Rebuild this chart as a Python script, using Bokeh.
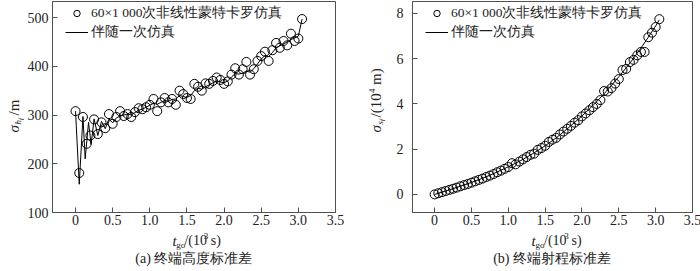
import math
from bokeh.plotting import figure
from bokeh.models import Range1d, FixedTicker, Legend, LegendItem
from bokeh.layouts import row, column
from bokeh.core.properties import value
from bokeh.embed import file_html
from bokeh.resources import INLINE

# ---------------- data ----------------
t_mc = [0.00, 0.05, 0.10, 0.15, 0.20, 0.25, 0.30, 0.35, 0.40, 0.45,
        0.50, 0.55, 0.60, 0.65, 0.70, 0.75, 0.80, 0.85, 0.90, 0.95,
        1.00, 1.05, 1.10, 1.15, 1.20, 1.25, 1.30, 1.35, 1.40, 1.45,
        1.50, 1.55, 1.60, 1.65, 1.70, 1.75, 1.80, 1.85, 1.90, 1.95,
        2.00, 2.05, 2.10, 2.15, 2.20, 2.25, 2.30, 2.35, 2.40, 2.45,
        2.50, 2.55, 2.60, 2.65, 2.70, 2.75, 2.80, 2.85, 2.90, 2.95,
        3.00, 3.05]

h_mc = [308, 181, 296, 241, 258, 291, 261, 285, 273, 302,
        282, 296, 308, 298, 302, 296, 306, 314, 312, 316,
        321, 333, 308, 326, 335, 326, 333, 321, 350, 343,
        335, 333, 364, 358, 350, 365, 364, 370, 377, 372,
        364, 369, 383, 396, 383, 394, 409, 383, 394, 411,
        421, 430, 411, 433, 448, 438, 452, 443, 467, 452,
        457, 497]

h_adj_t = [0.00, 0.05, 0.10, 0.13, 0.175, 0.21, 0.25, 0.30, 0.35, 0.40,
           0.45, 0.50, 0.55, 0.60, 0.65, 0.70, 0.75, 0.80, 0.85, 0.90,
           0.95, 1.00, 1.05, 1.10, 1.15, 1.20, 1.25, 1.30, 1.35, 1.40,
           1.45, 1.50, 1.55, 1.60, 1.65, 1.70, 1.75, 1.80, 1.85, 1.90,
           1.95, 2.00, 2.05, 2.10, 2.15, 2.20, 2.25, 2.30, 2.35, 2.40,
           2.45, 2.50, 2.55, 2.60, 2.65, 2.70, 2.75, 2.80, 2.85, 2.90,
           2.95, 3.00, 3.05]
h_adj = [308, 158, 297, 210, 285, 240, 292, 258, 287, 272,
         292, 284, 294, 298, 300, 302, 300, 305, 310, 312,
         316, 320, 324, 322, 326, 330, 328, 332, 333, 340,
         338, 336, 340, 350, 355, 353, 358, 362, 366, 370,
         368, 366, 370, 378, 385, 384, 386, 390, 388, 395,
         405, 415, 422, 420, 428, 438, 442, 446, 450, 455,
         458, 462, 497]

s_mc = [0.00, 0.05, 0.10, 0.15, 0.20, 0.25, 0.30, 0.36, 0.41, 0.46,
        0.52, 0.58, 0.64, 0.70, 0.77, 0.83, 0.90, 0.98, 1.05, 1.13,
        1.21, 1.38, 1.33, 1.45, 1.55, 1.65, 1.75, 1.80, 1.97, 2.05,
        2.15, 2.32, 2.42, 2.50, 2.65, 2.78, 2.90, 3.03, 3.17, 3.28,
        3.45, 3.58, 3.72, 3.86, 4.00, 4.17, 4.57, 4.55, 4.70, 4.90,
        5.10, 5.50, 5.55, 5.85, 5.95, 6.15, 6.30, 6.30, 6.95, 7.15,
        7.40, 7.75]

s_adj_t = [0.0, 0.1, 0.2, 0.3, 0.4, 0.5, 0.6, 0.7, 0.8, 0.9,
           1.0, 1.1, 1.2, 1.3, 1.4, 1.5, 1.6, 1.7, 1.8, 1.9,
           2.0, 2.1, 2.2, 2.3, 2.4, 2.5, 2.6, 2.7, 2.8, 2.9,
           3.0, 3.05]
s_adj = [0.00, 0.10, 0.20, 0.31, 0.42, 0.53, 0.65, 0.78, 0.92, 1.07,
         1.22, 1.38, 1.55, 1.74, 1.94, 2.15, 2.38, 2.63, 2.90, 3.18,
         3.47, 3.78, 4.10, 4.45, 4.82, 5.20, 5.60, 6.02, 6.47, 6.95,
         7.45, 7.72]

x_ticks = [0, 0.5, 1.0, 1.5, 2.0, 2.5, 3.0, 3.5]
x_tick_labels = ["0", "0.5", "1.0", "1.5", "2.0", "2.5", "3.0", "3.5"]
h_ticks = [100, 200, 300, 400, 500]
s_ticks = [0, 2, 4, 6, 8]
legend_labels = ["60×1 000次非线性蒙特卡罗仿真", "伴随一次仿真"]
captions = ["(a) 终端高度标准差", "(b) 终端射程标准差"]

FONT = "Liberation Serif"
TXT = "#222222"
AX = "#505050"
FH = 211          # frame height
BB = 19           # bottom border of the main figures
TOTAL_H = 271
XL_H = TOTAL_H - 1 - FH - BB   # height of the x-title strip (40)


def blank(width, height):
    f = figure(width=width, height=height, output_backend="svg",
               toolbar_location=None, x_range=Range1d(0, width),
               y_range=Range1d(0, height), min_border=0)
    f.axis.visible = False
    f.grid.visible = False
    f.outline_line_color = None
    f.background_fill_color = "white"
    f.border_fill_color = "white"
    return f


def put(f, x, y, text, size, italic=False, angle=0.0, align="left"):
    f.text(x=[x], y=[y], text=[text], text_font=value(FONT),
           text_font_size=value(f"{size}px"),
           text_font_style=value("italic" if italic else "normal"),
           text_color=TXT, text_align=value(align),
           text_baseline=value("middle"), angle=angle)


def make_main(bl, fw, br, xr, yr, yticks, ystand, mx, my, lx, ly):
    p = figure(frame_width=fw, frame_height=FH, output_backend="svg",
               toolbar_location=None, x_range=Range1d(*xr),
               y_range=Range1d(*yr), min_border_left=bl,
               min_border_right=br, min_border_top=1,
               min_border_bottom=BB)
    p.xgrid.visible = False
    p.ygrid.visible = False
    p.outline_line_color = AX
    p.outline_line_width = 1
    p.background_fill_color = "white"
    p.border_fill_color = "white"
    for ax in (p.xaxis[0], p.yaxis[0]):
        ax.axis_line_color = AX
        ax.major_tick_line_color = AX
        ax.major_tick_in = 5
        ax.major_tick_out = 0
        ax.minor_tick_line_color = None
        ax.axis_label_standoff = 0
        ax.major_label_text_font = FONT
        ax.major_label_text_font_size = "14px"
        ax.major_label_text_color = TXT
    p.xaxis.ticker = FixedTicker(ticks=x_ticks)
    p.xaxis.major_label_overrides = dict(zip(x_ticks, x_tick_labels))
    p.xaxis.major_label_standoff = 2
    p.yaxis.ticker = FixedTicker(ticks=yticks)
    p.yaxis.major_label_standoff = ystand

    r_line = p.line(lx, ly, line_color="black", line_width=1)
    r_sc = p.scatter(mx, my, marker="circle", size=9, fill_alpha=0,
                     line_color="black", line_width=1)

    leg = Legend(items=[LegendItem(label=legend_labels[0], renderers=[r_sc]),
                        LegendItem(label=legend_labels[1], renderers=[r_line])],
                 location=(13, FH - 7 - 33))
    leg.border_line_alpha = 0
    leg.background_fill_alpha = 0
    leg.padding = 0
    leg.margin = 0
    leg.spacing = 1
    leg.glyph_width = 23
    leg.glyph_height = 16
    leg.label_height = 16
    leg.label_standoff = 3
    leg.label_text_font = FONT
    leg.label_text_font_size = "13.5px"
    leg.label_text_color = TXT
    p.add_layout(leg)
    return p


def make_xlab(width, tcx, ccx, caption):
    f = blank(width, XL_H)
    sx = tcx - 26
    put(f, sx, 31, "t", 15, italic=True)
    put(f, sx + 4.5, 27, "go", 9)
    put(f, sx + 14, 31, "/(10", 14)
    put(f, sx + 36.8, 36, "3", 9)
    put(f, sx + 44.8, 31, "s)", 14)
    put(f, ccx, 13, caption, 14, align="center")
    return f


A = math.pi / 2

# panel (a): page x 0..24 label strip, 24..352 figure (frame 49..332)
YA_W, BL_A, FW_A, BR_A = 24, 25, 283, 20
pA = make_main(BL_A, FW_A, BR_A, (-0.31, 3.5), (100, 533), h_ticks, 4,
               t_mc, h_mc, h_adj_t, h_adj)
xA = make_xlab(BL_A + FW_A + BR_A, BL_A + FW_A / 2, BL_A + FW_A / 2 - 1,
               captions[0])
yA = blank(YA_W, TOTAL_H)
cx = 13.5
put(yA, cx, 139, "σ", 15, italic=True, angle=A)
put(yA, cx + 4, 147, "h", 9, italic=True, angle=A)
put(yA, cx + 6.5, 151.5, "f", 7, italic=True, angle=A)
put(yA, cx, 156, "/m", 15, angle=A)

# panel (b): page x 352..385 label strip, 385..700 figure (frame 409..689)
YB_W, BL_B, FW_B, BR_B = 33, 24, 280, 11
pB = make_main(BL_B, FW_B, BR_B, (-0.30, 3.5), (-0.8, 8.53), s_ticks, 9,
               t_mc, s_mc, s_adj_t, s_adj)
xB = make_xlab(BL_B + FW_B + BR_B, 160, 157, captions[1])
yB = blank(YB_W, TOTAL_H)
cx = 20
put(yB, cx, 139, "σ", 15, italic=True, angle=A)
put(yB, cx + 4, 147, "s", 9, italic=True, angle=A)
put(yB, cx + 6.5, 150.5, "f", 7, italic=True, angle=A)
put(yB, cx, 154, "/(10", 15, angle=A)
put(yB, cx - 4, 178.4, "4", 9, angle=A)
put(yB, cx, 186.5, "m)", 15, angle=A)

layout = row(yA, column(pA, xA), yB, column(pB, xB))
open("out.html", "w").write(file_html(layout, INLINE))
